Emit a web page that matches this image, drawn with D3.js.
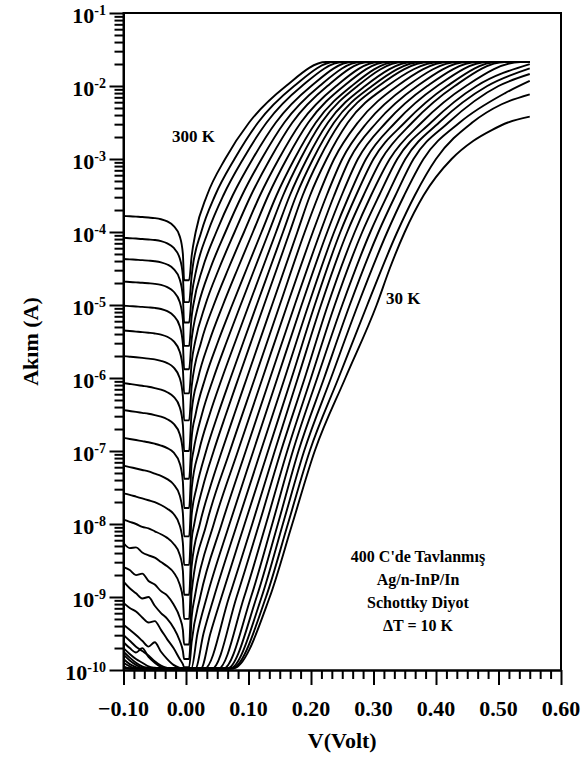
<!DOCTYPE html>
<html><head><meta charset="utf-8">
<script src="https://cdn.jsdelivr.net/npm/d3@7"></script>
<style>
body{margin:0;background:#fff}
text{font-family:"Liberation Serif","Times New Roman",serif;font-weight:bold;fill:#000}
</style></head>
<body><svg id="c" width="586" height="760"></svg>
<script>
// ---------------- DATA ----------------
const temps=[300,290,280,270,260,250,240,230,220,210,200,190,180,170,160,150,140,130,120,110,100,90,80,70,60,50,40,30];
const xTicks=[-0.10,0.00,0.10,0.20,0.30,0.40,0.50,0.60];
const yExps=[-10,-9,-8,-7,-6,-5,-4,-3,-2,-1];
// reverse-bias voltages (V) and log10(I) of every curve at those voltages
const revV=[-0.10,-0.09,-0.08,-0.07,-0.06,-0.05,-0.04,-0.03,-0.02,-0.01,-0.005,-0.003];
const revLog=[
[-3.78,-3.785,-3.79,-3.795,-3.802,-3.81,-3.825,-3.855,-3.915,-4.06,-4.30,-4.66],
[-4.08,-4.085,-4.09,-4.095,-4.102,-4.11,-4.125,-4.155,-4.215,-4.36,-4.60,-4.96],
[-4.37,-4.375,-4.38,-4.385,-4.392,-4.40,-4.415,-4.445,-4.505,-4.65,-4.89,-5.24],
[-4.68,-4.685,-4.69,-4.695,-4.702,-4.71,-4.725,-4.755,-4.815,-4.96,-5.20,-5.56],
[-5.01,-5.015,-5.02,-5.025,-5.032,-5.04,-5.055,-5.085,-5.145,-5.29,-5.53,-5.88],
[-5.35,-5.357,-5.364,-5.371,-5.38,-5.39,-5.405,-5.435,-5.495,-5.64,-5.88,-6.21],
[-5.70,-5.708,-5.716,-5.725,-5.735,-5.745,-5.765,-5.795,-5.855,-6.00,-6.25,-6.58],
[-6.07,-6.082,-6.094,-6.107,-6.12,-6.138,-6.16,-6.195,-6.255,-6.40,-6.64,-7.00],
[-6.44,-6.452,-6.464,-6.477,-6.49,-6.508,-6.53,-6.565,-6.625,-6.77,-7.01,-7.38],
[-6.82,-6.835,-6.85,-6.865,-6.88,-6.90,-6.925,-6.96,-7.02,-7.17,-7.42,-7.78],
[-7.20,-7.22,-7.24,-7.26,-7.28,-7.31,-7.34,-7.385,-7.455,-7.61,-7.85,-8.17],
[-7.58,-7.60,-7.625,-7.65,-7.675,-7.70,-7.74,-7.79,-7.86,-8.02,-8.26,-8.56],
[-7.94,-7.97,-8.00,-8.04,-8.06,-8.10,-8.14,-8.19,-8.27,-8.42,-8.64,-8.97],
[-8.26,-8.33,-8.32,-8.39,-8.43,-8.46,-8.52,-8.58,-8.66,-8.83,-9.02,-9.30],
[-8.59,-8.63,-8.70,-8.68,-8.78,-8.83,-8.92,-8.98,-9.10,-9.28,-9.45,-9.65],
[-8.79,-8.88,-8.95,-9.02,-9.00,-9.12,-9.22,-9.30,-9.42,-9.60,-9.74,-9.85],
[-9.08,-9.15,-9.20,-9.28,-9.35,-9.33,-9.45,-9.58,-9.70,-9.85,-9.92,-9.96],
[-9.38,-9.45,-9.52,-9.60,-9.68,-9.62,-9.75,-9.85,-9.93,-9.97,-9.98,-9.98],
[-9.52,-9.60,-9.68,-9.74,-9.80,-9.88,-9.94,-9.97,-9.98,-9.98,-9.98,-9.98],
[-9.62,-9.70,-9.76,-9.70,-9.82,-9.90,-9.96,-9.98,-9.98,-9.98,-9.98,-9.98],
[-9.70,-9.78,-9.85,-9.90,-9.95,-9.97,-9.98,-9.98,-9.98,-9.98,-9.98,-9.98],
[-9.75,-9.83,-9.90,-9.95,-9.97,-9.98,-9.98,-9.98,-9.98,-9.98,-9.98,-9.98],
[-9.79,-9.87,-9.93,-9.97,-9.98,-9.98,-9.98,-9.98,-9.98,-9.98,-9.98,-9.98],
[-9.85,-9.92,-9.96,-9.98,-9.98,-9.98,-9.98,-9.98,-9.98,-9.98,-9.98,-9.98],
[-9.90,-9.95,-9.98,-9.98,-9.98,-9.98,-9.98,-9.98,-9.98,-9.98,-9.98,-9.98],
[-9.95,-9.98,-9.98,-9.98,-9.98,-9.98,-9.98,-9.98,-9.98,-9.98,-9.98,-9.98],
[-9.97,-9.98,-9.98,-9.98,-9.98,-9.98,-9.98,-9.98,-9.98,-9.98,-9.98,-9.98],
[-9.98,-9.98,-9.98,-9.98,-9.98,-9.98,-9.98,-9.98,-9.98,-9.98,-9.98,-9.98]
];
const dipV=0.005;
// forward-bias points of every curve: [V, log10(I)]
const fwd=[
[[.009,-4.33],[.0155,-4],[.0335,-3.5],[.0626,-3],[.101,-2.5],[.16,-2],[.224,-1.672],[.55,-1.672]],
[[.009,-4.6],[.0104,-4.5],[.0244,-4],[.0465,-3.5],[.0776,-3],[.1153,-2.5],[.173,-2],[.238,-1.672],[.55,-1.672]],
[[.009,-4.88],[.0169,-4.5],[.0351,-4],[.0597,-3.5],[.0914,-3],[.129,-2.5],[.1855,-2],[.251,-1.672],[.55,-1.672]],
[[.009,-5.16],[.0117,-5],[.0265,-4.5],[.0485,-4],[.0746,-3.5],[.1065,-3],[.1438,-2.5],[.2004,-2],[.2654,-1.672],[.55,-1.672]],
[[.009,-5.47],[.0119,-5.3],[.0198,-5],[.0389,-4.5],[.0631,-4],[.0895,-3.5],[.1209,-3],[.1574,-2.5],[.2137,-2],[.2793,-1.672],[.55,-1.672]],
[[.009,-5.79],[.0147,-5.5],[.0309,-5],[.0529,-4.5],[.0778,-4],[.1038,-3.5],[.1345,-3],[.1702,-2.5],[.2262,-2],[.2922,-1.672],[.55,-1.672]],
[[.009,-6.12],[.0245,-5.5],[.0444,-5],[.0679,-4.5],[.0929,-4],[.1183,-3.5],[.1484,-3],[.1838,-2.5],[.2403,-2],[.3081,-1.672],[.55,-1.672]],
[[.009,-6.46],[.0194,-6],[.0372,-5.5],[.0591,-5],[.0828,-4.5],[.1071,-4],[.1316,-3.5],[.161,-3],[.1958,-2.5],[.2526,-2],[.3219,-1.672],[.55,-1.672]],
[[.009,-6.82],[.0153,-6.5],[.0309,-6],[.0513,-5.5],[.0739,-5],[.0973,-4.5],[.1209,-4],[.1447,-3.5],[.1734,-3],[.2078,-2.5],[.2651,-2],[.3361,-1.672],[.55,-1.672]],
[[.009,-7.16],[.0119,-7],[.0254,-6.5],[.044,-6],[.0652,-5.5],[.0874,-5],[.1099,-4.5],[.1326,-4],[.1553,-3.5],[.1831,-3],[.2168,-2.5],[.2744,-2],[.3469,-1.672],[.55,-1.672]],
[[.0093,-7.5],[.0208,-7],[.0378,-6.5],[.0577,-6],[.079,-5.5],[.1006,-5],[.1224,-4.5],[.1442,-4],[.1661,-3.5],[.1934,-3],[.2272,-2.5],[.2866,-2],[.3631,-1.672],[.55,-1.672]],
[[.009,-7.88],[.0169,-7.5],[.0322,-7],[.051,-6.5],[.0713,-6],[.0921,-5.5],[.1131,-5],[.1342,-4.5],[.1553,-4],[.1764,-3.5],[.2033,-3],[.2369,-2.5],[.2977,-2],[.377,-1.672],[.55,-1.672]],
[[.009,-8.23],[.0132,-8],[.0267,-7.5],[.0443,-7],[.0638,-6.5],[.084,-6],[.1044,-5.5],[.1249,-5],[.1455,-4.5],[.166,-4],[.1866,-3.5],[.2131,-3],[.2467,-2.5],[.3082,-2],[.3895,-1.672],[.55,-1.672]],
[[.009,-8.58],[.0221,-8],[.0385,-7.5],[.0574,-7],[.0772,-6.5],[.0973,-6],[.1377,-5],[.1782,-4],[.1985,-3.5],[.225,-3],[.259,-2.5],[.3222,-2],[.4065,-1.672],[.55,-1.672]],
[[.009,-8.93],[.0328,-8],[.0703,-7],[.1102,-6],[.15,-5],[.19,-4],[.212,-3.5],[.237,-3],[.275,-2.5],[.338,-2],[.42,-1.672],[.55,-1.672]],
[[.009,-9.28],[.014,-9],[.0444,-8],[.0831,-7],[.1225,-6],[.162,-5],[.203,-4],[.225,-3.5],[.25,-3],[.29,-2.5],[.354,-2],[.435,-1.672],[.55,-1.672]],
[[.009,-9.62],[.0227,-9],[.0571,-8],[.0956,-7],[.1346,-6],[.174,-5],[.215,-4],[.237,-3.5],[.262,-3],[.305,-2.5],[.37,-2],[.45,-1.672],[.55,-1.672]],
[[.0085,-9.98],[.0183,-9.5],[.0333,-9],[.0696,-8],[.1078,-7],[.1463,-6],[.185,-5],[.226,-4],[.249,-3.5],[.275,-3],[.32,-2.5],[.386,-2],[.466,-1.672],[.55,-1.672]],
[[.015,-9.98],[.028,-9.5],[.0448,-9],[.0818,-8],[.1197,-7],[.158,-6],[.196,-5],[.237,-4],[.261,-3.5],[.288,-3],[.335,-2.5],[.402,-2],[.482,-1.672],[.55,-1.672]],
[[.0238,-9.98],[.039,-9.5],[.0568,-9],[.0938,-8],[.1313,-7],[.169,-6],[.206,-5],[.247,-4],[.272,-3.5],[.30,-3],[.35,-2.5],[.418,-2],[.498,-1.672],[.55,-1.672]],
[[.030,-9.98],[.069,-9],[.106,-8],[.142,-7],[.179,-6],[.216,-5],[.258,-4],[.284,-3.5],[.313,-3],[.362,-2.5],[.43,-2],[.51,-1.672],[.55,-1.672]],
[[.042,-9.98],[.081,-9],[.117,-8],[.152,-7],[.19,-6],[.227,-5],[.27,-4],[.296,-3.5],[.326,-3],[.377,-2.5],[.448,-2],[.535,-1.672],[.55,-1.672]],
[[.052,-9.98],[.093,-9],[.128,-8],[.162,-7],[.20,-6],[.238,-5],[.282,-4],[.309,-3.5],[.338,-3],[.392,-2.5],[.465,-2],[.55,-1.70]],
[[.060,-9.98],[.104,-9],[.138,-8],[.171,-7],[.21,-6],[.25,-5],[.295,-4],[.322,-3.5],[.351,-3],[.405,-2.5],[.482,-2],[.55,-1.758]],
[[.066,-9.98],[.113,-9],[.147,-8],[.18,-7],[.221,-6],[.262,-5],[.308,-4],[.335,-3.5],[.364,-3],[.42,-2.5],[.50,-2],[.55,-1.836]],
[[.070,-9.98],[.121,-9],[.155,-8],[.189,-7],[.232,-6],[.275,-5],[.322,-4],[.349,-3.5],[.38,-3],[.438,-2.5],[.51,-2.1],[.55,-1.93]],
[[.073,-9.98],[.128,-9],[.163,-8],[.198,-7],[.244,-6],[.29,-5],[.338,-4],[.366,-3.5],[.40,-3],[.458,-2.5],[.505,-2.25],[.55,-2.114]],
[[.075,-9.98],[.134,-9],[.170,-8],[.206,-7],[.255,-6],[.305,-5],[.326,-4.5],[.35,-4],[.38,-3.5],[.425,-3],[.46,-2.75],[.49,-2.6],[.515,-2.5],[.55,-2.42]]
];
const noteLines=["400 C'de Tavlanmış","Ag/n-InP/In","Schottky Diyot","\u0394T = 10 K"];

// ---------------- CHART ----------------
const svg=d3.select("#c");
const L=123.5,R=561,T=13,B=670;
const x=d3.scaleLinear().domain([-0.1,0.6]).range([L,R]);
const y=d3.scaleLog().domain([1e-10,1e-1]).range([B,T]);

// curves
const line=d3.line().x(d=>x(d[0])).y(d=>y(Math.pow(10,d[1]))).curve(d3.curveMonotoneX);
const curves=temps.map((t,k)=>{
  const pts=revV.map((v,i)=>[v,revLog[k][i]]);
  pts.push([dipV,revLog[k][revLog[k].length-1]]);
  return pts.concat(fwd[k]);
});
svg.append("g").selectAll("path").data(curves).join("path")
  .attr("d",line).attr("fill","none").attr("stroke","#000")
  .attr("stroke-width",1.9).attr("stroke-linejoin","round");

// frame
svg.append("path").attr("d",`M${L},${B}V${T}H${R}V${B}`).attr("fill","none").attr("stroke","#000").attr("stroke-width",2);

// y axis
const yMinor=[];
yExps.slice(0,-1).forEach(e=>{for(let m=2;m<=9;m++)yMinor.push(m*Math.pow(10,e));});
const yMaj=yExps.map(e=>Math.pow(10,e));
const gy=svg.append("g").attr("transform",`translate(${L},0)`);
gy.call(d3.axisLeft(y).tickValues(yMaj).tickSize(14).tickSizeOuter(0).tickFormat(""));
gy.append("g").call(d3.axisLeft(y).tickValues(yMinor).tickSize(9).tickSizeOuter(0).tickFormat(""));
gy.selectAll("path.domain").attr("stroke-width",2);
gy.selectAll("line").attr("stroke-width",2);
yExps.forEach(e=>{
  const t=svg.append("text").attr("x",106).attr("y",y(Math.pow(10,e))+9.5)
    .attr("text-anchor","end").style("font-size","22px").text("10");
  t.append("tspan").attr("dy",-8).style("font-size","14px").text(String(e));
});

// x axis
const xMinor=[];
for(let i=0;i<xTicks.length-1;i++){for(let j=1;j<6;j++)xMinor.push(xTicks[i]+j*(xTicks[i+1]-xTicks[i])/6);}
const gx=svg.append("g").attr("transform",`translate(0,${B})`);
gx.call(d3.axisBottom(x).tickValues(xTicks).tickSize(15).tickSizeOuter(0).tickFormat(""));
gx.append("g").call(d3.axisBottom(x).tickValues(xMinor).tickSize(9).tickSizeOuter(0).tickFormat(""));
gx.selectAll("path.domain").attr("stroke-width",2);
gx.selectAll("line").attr("stroke-width",2);
const fmt=d3.format(".2f");
xTicks.forEach(v=>{
  svg.append("text").attr("x",x(v)).attr("y",716).attr("text-anchor","middle")
    .style("font-size","22px").text(fmt(v));
});

// axis titles
svg.append("text").attr("x",(L+R)/2).attr("y",748).attr("text-anchor","middle")
  .style("font-size","22px").text("V(Volt)");
svg.append("text").attr("transform",`translate(38,${(T+B)/2}) rotate(-90)`)
  .attr("text-anchor","middle").style("font-size","22px").text("Akım (A)");

// annotations
svg.append("text").attr("x",172).attr("y",142).style("font-size","17px").text("300 K");
svg.append("text").attr("x",386).attr("y",304).style("font-size","17px").text("30 K");
noteLines.forEach((s,i)=>{
  svg.append("text").attr("x",418).attr("y",562+i*23).attr("text-anchor","middle")
    .style("font-size","16px").text(s);
});
</script></body></html>
